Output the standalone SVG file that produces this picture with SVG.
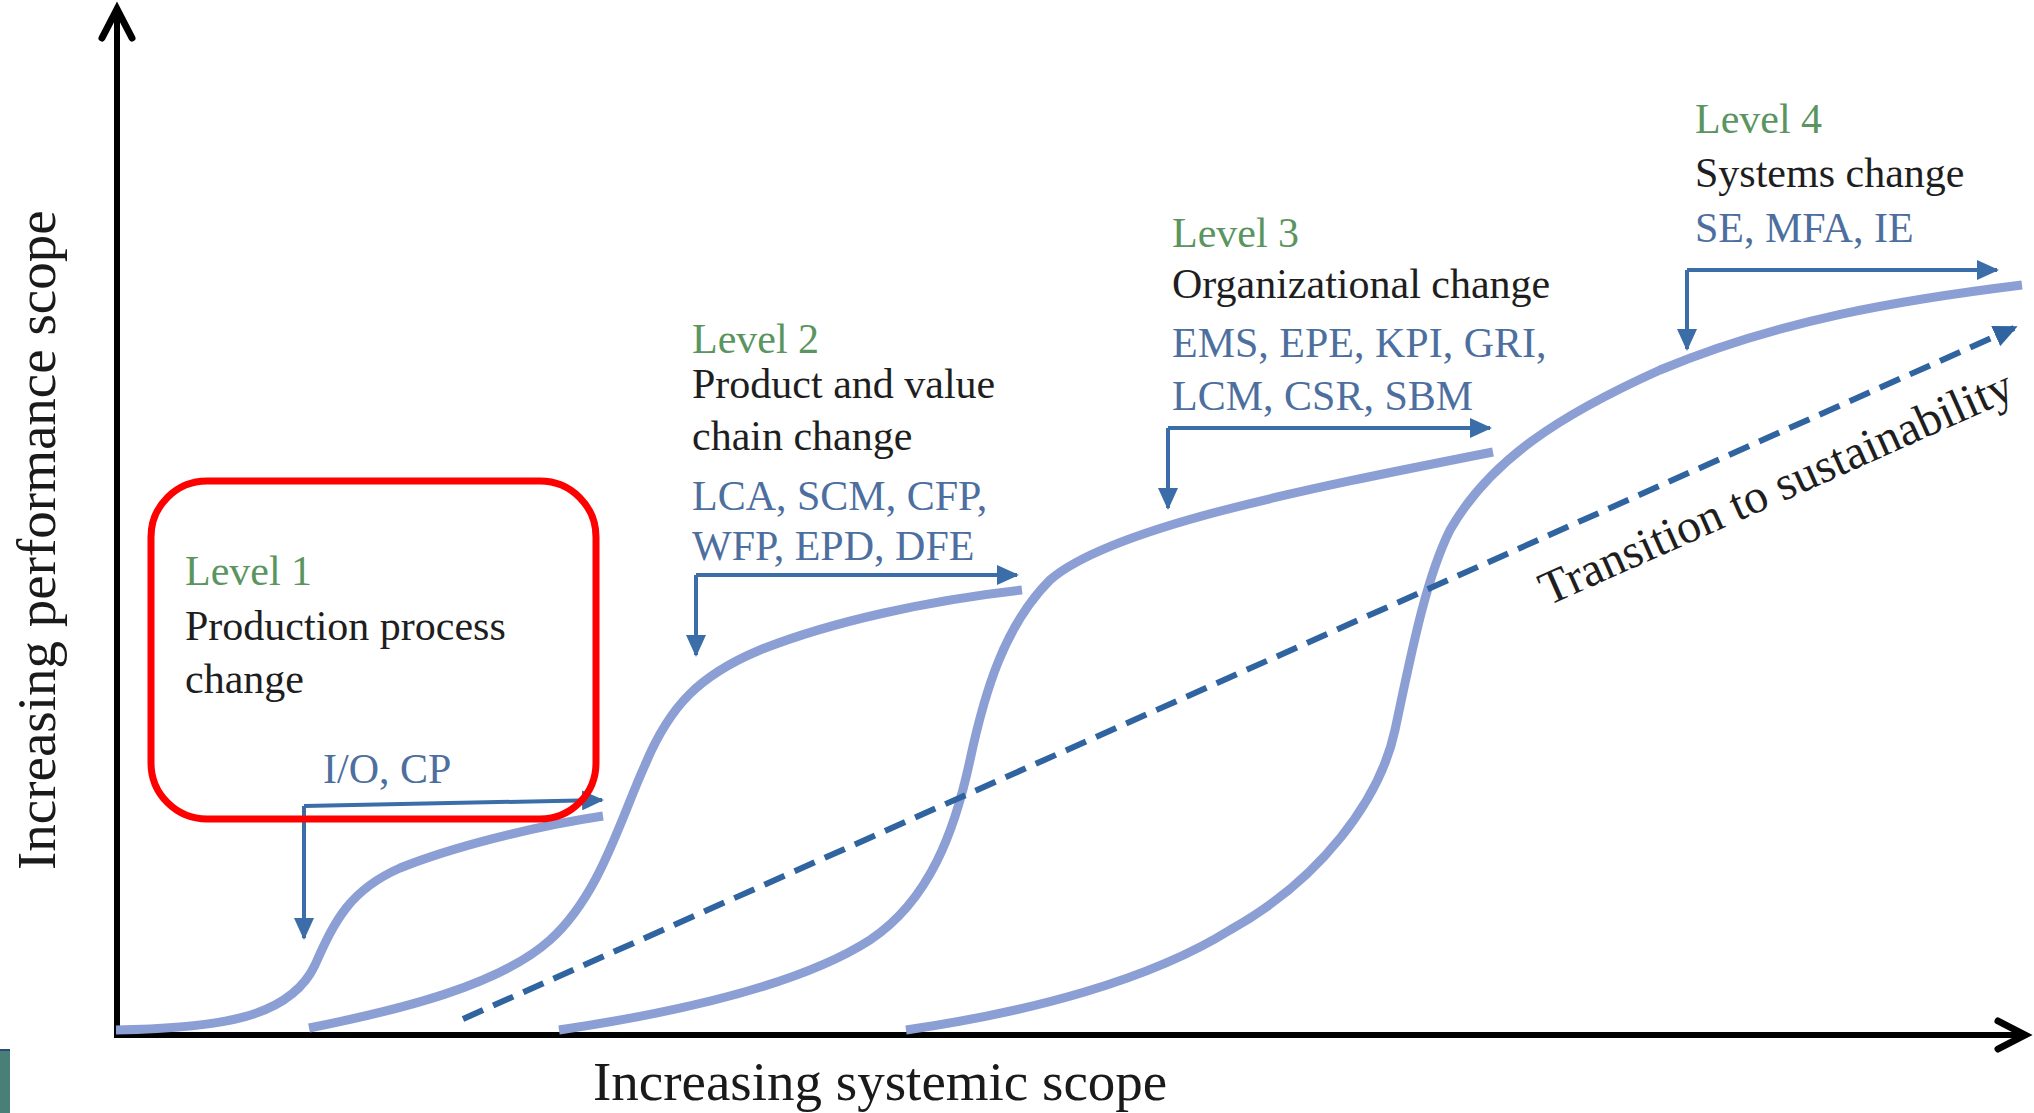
<svg xmlns="http://www.w3.org/2000/svg" width="2034" height="1113" viewBox="0 0 2034 1113">
  <style>
    text { font-family: "Liberation Serif", "Times New Roman", serif; }
    .lvl { font-size: 42px; fill: #5a9560; }
    .title { font-size: 42px; fill: #1e1e1e; }
    .tools { font-size: 42px; fill: #4d6f9f; }
    .axislabel { font-size: 55px; fill: #1a1a1a; }
    .axis { fill: none; stroke: #000; stroke-width: 6; }
    .head { fill: none; stroke: #000; stroke-width: 7; stroke-linejoin: miter; stroke-linecap: round; }
    .scurve { fill: none; stroke: #8c9fd5; stroke-width: 9; stroke-linecap: butt; }
    .bracket { fill: none; stroke: #3b6ea8; stroke-width: 4; marker-end: url(#tip); }
    .trend { fill: none; stroke: #2f64a0; stroke-width: 6; stroke-dasharray: 22 11; marker-end: url(#tipDash); }
  </style>
  <defs>
    <marker id="tip" markerUnits="userSpaceOnUse" markerWidth="22" markerHeight="20" refX="20" refY="10" orient="auto">
      <path d="M0,0 L22,10 L0,20 Z" fill="#3b6ea8"/>
    </marker>
    <marker id="tipDash" markerUnits="userSpaceOnUse" markerWidth="24" markerHeight="22" refX="20" refY="11" orient="auto">
      <path d="M0,0 L24,11 L0,22 Z" fill="#2f64a0"/>
    </marker>
  </defs>

  <rect width="2034" height="1113" fill="#ffffff"/>

  <!-- corner tab at the lower left edge -->
  <rect x="0" y="1050" width="10" height="63" fill="#4a7f78"/>
  <rect x="0" y="1049" width="10" height="2" fill="#2c4a7c"/>

  <!-- axes -->
  <g id="axes">
    <line class="axis" x1="117" y1="1038" x2="117" y2="12"/>
    <polyline class="head" points="102,38 117,9 132,38"/>
    <line class="axis" x1="114" y1="1035" x2="2022" y2="1035"/>
    <polyline class="head" points="1998,1021 2025,1035 1998,1049"/>
    <text class="axislabel" transform="translate(55,870) rotate(-90)">Increasing performance scope</text>
    <text class="axislabel" x="593" y="1100">Increasing systemic scope</text>
  </g>

  <!-- connectors: S-curves, bracket arrows and the trend line -->
  <g id="connectors">
    <path class="scurve" d="M116,1030 C220,1028 290,1018 315,965 C335,920 350,890 400,868 C450,848 530,827 603,816"/>
    <path class="scurve" d="M309,1028 C400,1010 500,985 550,940 C600,895 620,820 645,765 C670,705 700,675 760,650 C830,622 930,600 1022,590"/>
    <path class="scurve" d="M559,1030 C680,1012 800,985 870,940 C930,900 955,830 970,760 C985,690 1005,625 1050,580 C1110,528 1300,490 1493,452"/>
    <path class="scurve" d="M906,1030 C1030,1012 1150,980 1230,930 C1320,880 1380,800 1395,730 C1410,660 1425,580 1450,530 C1490,460 1560,415 1660,370 C1780,320 1900,300 2022,285"/>

    <path class="trend" d="M463,1019 L2014,328"/>

    <path class="bracket" d="M304,806 L304,938"/>
    <path class="bracket" d="M304,806 L602,800"/>
    <path class="bracket" d="M696,575 L696,655"/>
    <path class="bracket" d="M696,575 L1017,575"/>
    <path class="bracket" d="M1168,428 L1168,508"/>
    <path class="bracket" d="M1168,428 L1490,428"/>
    <path class="bracket" d="M1687,270 L1687,349"/>
    <path class="bracket" d="M1687,270 L1997,270"/>
  </g>

  <!-- Level 1 -->
  <g id="level1">
    <rect x="151" y="481" width="445" height="338" rx="56" ry="56" fill="none" stroke="#ff0000" stroke-width="7"/>
    <text class="lvl" x="185" y="585">Level 1</text>
    <text class="title" x="185" y="640">Production process</text>
    <text class="title" x="185" y="693">change</text>
    <text class="tools" x="323" y="783">I/O, CP</text>
  </g>

  <!-- Level 2 -->
  <g id="level2">
    <text class="lvl" x="692" y="353">Level 2</text>
    <text class="title" x="692" y="398">Product and value</text>
    <text class="title" x="692" y="450">chain change</text>
    <text class="tools" x="692" y="510">LCA, SCM, CFP,</text>
    <text class="tools" x="692" y="560">WFP, EPD, DFE</text>
  </g>

  <!-- Level 3 -->
  <g id="level3">
    <text class="lvl" x="1172" y="247">Level 3</text>
    <text class="title" x="1172" y="298">Organizational change</text>
    <text class="tools" x="1172" y="357">EMS, EPE, KPI, GRI,</text>
    <text class="tools" x="1172" y="410">LCM, CSR, SBM</text>
  </g>

  <!-- Level 4 -->
  <g id="level4">
    <text class="lvl" x="1695" y="133">Level 4</text>
    <text class="title" x="1695" y="187">Systems change</text>
    <text class="tools" x="1695" y="242">SE, MFA, IE</text>
  </g>

  <!-- trend label -->
  <g id="transition">
    <text class="title" style="font-size:48px" transform="translate(1548,606) rotate(-24)">Transition to sustainability</text>
  </g>
</svg>
